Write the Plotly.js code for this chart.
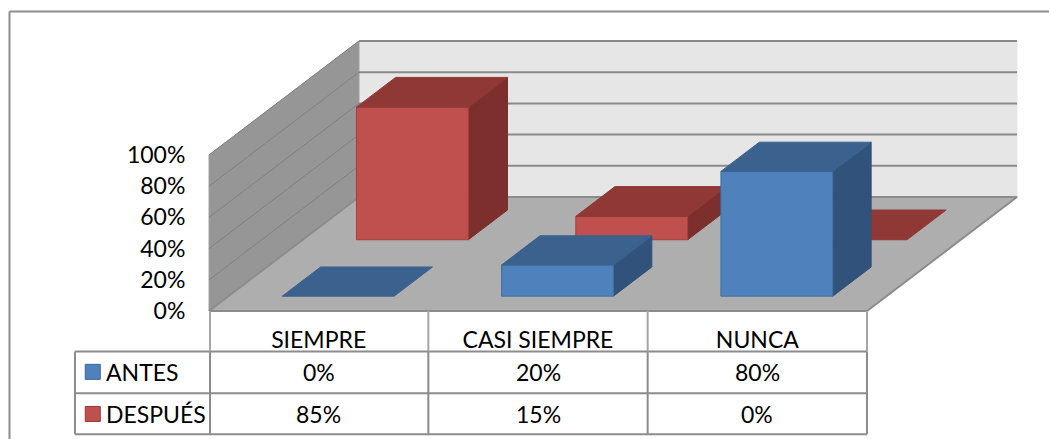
<!DOCTYPE html>
<html>
<head>
<meta charset="utf-8">
<script src="https://cdn.plot.ly/plotly-3.0.1.min.js"></script>
<style>
html, body { margin: 0; padding: 0; background: #fff; overflow: hidden; }
#chart { width: 1049px; height: 439px; }
</style>
</head>
<body>
<div id="chart"></div>
<script>
var categories = ["SIEMPRE", "CASI SIEMPRE", "NUNCA"];
var seriesNames = ["ANTES", "DESPUÉS"];
var antes = [0, 20, 80];
var despues = [85, 15, 0];
var yTicks = [0, 20, 40, 60, 80, 100];

var W = 1049, H = 439;
var X0 = 209, CAT_W = 219.33; // pixel of category 0, pixels per category
var Y0 = 311, PCT_H = 1.56; // pixel of 0%, pixels per percent

// oblique depth: d=0 is the front of the floor, d=1 the back wall
var DX = 150 / CAT_W;
var DY = 114 / PCT_H;
var BAR_W = 0.51;

var font = "Lato, 'Open Sans', sans-serif";
var traces = [];

function poly(pts, fill, line, width) {
	traces.push({
		type: "scatter",
		mode: "lines",
		x: pts.map(function (p) { return p[0] + p[2] * DX; }),
		y: pts.map(function (p) { return p[1] + p[2] * DY; }),
		fill: fill ? "toself" : "none",
		fillcolor: fill || undefined,
		line: { color: line, width: width },
		hoverinfo: "skip",
		showlegend: false
	});
}

// walls and floor
poly([[0, 0, 1], [3, 0, 1], [3, 100, 1], [0, 100, 1], [0, 0, 1]], "#e6e6e6", "#e6e6e6", 1);
poly([[0, 0, 0], [0, 0, 1], [0, 100, 1], [0, 100, 0], [0, 0, 0]], "#969696", "#a0a0a0", 1);
yTicks.slice(1).forEach(function (t) {
	poly([[0, t, 0], [0, t, 1]], null, "#808080", 1);
	poly([[0, t, 1], [3, t, 1]], null, "#8a8a8a", 2);
});
poly([[0, 0, 0], [3, 0, 0], [3, 0, 1], [0, 0, 1], [0, 0, 0]], "#aeaeae", "#8c8c8c", 2);

function bar(cat, value, d0, d1, front, top, side, edge) {
	var a = cat + 0.5 - BAR_W / 2, b = cat + 0.5 + BAR_W / 2;
	if (value > 0) {
		poly([[b, 0, d0], [b, 0, d1], [b, value, d1], [b, value, d0], [b, 0, d0]], side, side, 1);
		poly([[a, 0, d0], [b, 0, d0], [b, value, d0], [a, value, d0], [a, 0, d0]], front, edge, 1);
	}
	poly([[a, value, d0], [b, value, d0], [b, value, d1], [a, value, d1], [a, value, d0]], top, top, 1);
}

// back row first so the front row covers it
despues.forEach(function (v, i) {
	bar(i, v, 0.625, 0.886, "#c0504d", "#8f3836", "#7c2f2d", "#a5403e");
});
antes.forEach(function (v, i) {
	bar(i, v, 0.13, 0.386, "#4f81bd", "#3b618f", "#31527a", "#41709f");
});

// legend keys of the data table
var rowY = [-39, -66];
traces.push({
	type: "scatter",
	mode: "markers",
	x: [-0.53, -0.53],
	y: rowY,
	marker: {
		symbol: "square",
		size: 15,
		color: ["#4f81bd", "#c0504d"],
		line: { color: ["#3b6593", "#953735"], width: 1 }
	},
	hoverinfo: "skip",
	showlegend: false
});

var shapes = [];
function rule(x0, y0, x1, y1, color, width) {
	shapes.push({
		type: "line", xref: "x", yref: "y",
		x0: x0, y0: y0, x1: x1, y1: y1,
		line: { color: color, width: width }
	});
}
var tableLeft = (75 - X0) / CAT_W;
var tableRows = [-26, -52.8, -79];
tableRows.forEach(function (r) { rule(tableLeft, r, 3, r, "#8c8c8c", 2); });
rule(tableLeft, tableRows[0], tableLeft, tableRows[2], "#8c8c8c", 2);
[1 / CAT_W, 1, 2, 3].forEach(function (c) {
	rule(c, 0, c, tableRows[0], "#a6a6a6", 2);
	rule(c, tableRows[0], c, tableRows[2], "#8c8c8c", 2);
});

// chart frame, only top and left are inside the picture
shapes.push({ type: "line", xref: "paper", yref: "paper", x0: 9.5 / W, x1: 1, y0: 1 - 11.5 / H, y1: 1 - 11.5 / H, line: { color: "#8c8c8c", width: 2 } });
shapes.push({ type: "line", xref: "paper", yref: "paper", x0: 9.5 / W, x1: 9.5 / W, y0: 0, y1: 1 - 11.5 / H, line: { color: "#8c8c8c", width: 2 } });

var annotations = [];
function label(x, y, text, anchor) {
	annotations.push({
		x: x, y: y, xref: "x", yref: "y",
		text: text, showarrow: false, xanchor: anchor,
		font: { family: font, size: 23, color: "#000" }
	});
}
seriesNames.forEach(function (n, r) {
	label(-0.478, rowY[r], n, "left");
	[antes, despues][r].forEach(function (v, i) {
		label(i + 0.5, rowY[r], v + "%", "center");
	});
});

var layout = {
	width: W,
	height: H,
	margin: { l: 0, r: 0, t: 0, b: 0 },
	paper_bgcolor: "#fff",
	plot_bgcolor: "#fff",
	showlegend: false,
	xaxis: {
		range: [-X0 / CAT_W, (W - X0) / CAT_W],
		anchor: "free",
		position: (H - Y0) / H,
		tickvals: [0.5, 1.5, 2.5],
		ticktext: categories,
		ticks: "outside",
		ticklen: 8,
		tickcolor: "rgba(0,0,0,0)",
		tickfont: { family: font, size: 23, color: "#000" },
		showgrid: false,
		zeroline: false,
		showline: false,
		fixedrange: true
	},
	yaxis: {
		range: [(Y0 - H) / PCT_H, Y0 / PCT_H],
		anchor: "free",
		position: X0 / W,
		tickvals: yTicks,
		ticktext: yTicks.map(function (t) { return t + "%"; }),
		ticks: "outside",
		ticklen: 19,
		tickcolor: "rgba(0,0,0,0)",
		tickfont: { family: font, size: 23, color: "#000" },
		showgrid: false,
		zeroline: false,
		showline: false,
		fixedrange: true
	},
	shapes: shapes,
	annotations: annotations
};

Plotly.newPlot("chart", traces, layout, { displayModeBar: false, staticPlot: true });
</script>
</body>
</html>
